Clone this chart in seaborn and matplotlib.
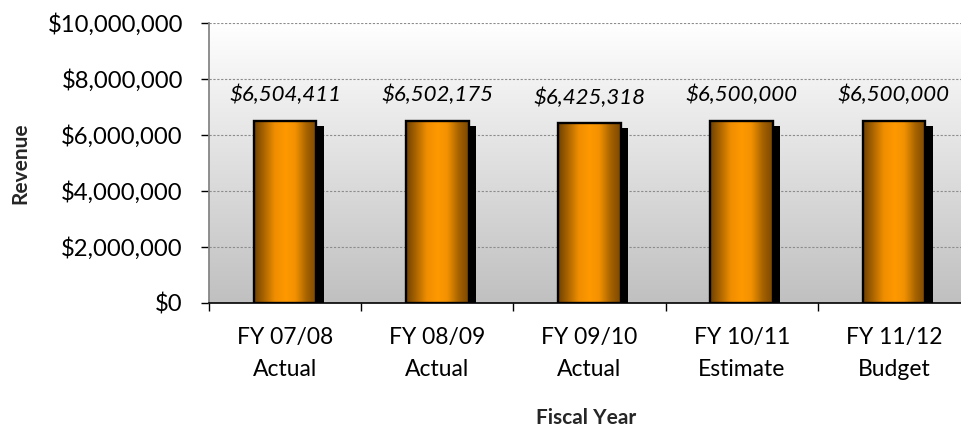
import numpy as np
import matplotlib
matplotlib.use("Agg")
import matplotlib.pyplot as plt
import seaborn as sns
import pandas as pd
from matplotlib import patheffects as pe
from matplotlib.colors import LinearSegmentedColormap
from matplotlib.patches import Rectangle
from matplotlib.ticker import FuncFormatter, MultipleLocator, FixedLocator

# Revenue by fiscal year
years = ["FY 07/08", "FY 08/09", "FY 09/10", "FY 10/11", "FY 11/12"]
kinds = ["Actual", "Actual", "Actual", "Estimate", "Budget"]
revenue = [6504411, 6502175, 6425318, 6500000, 6500000]

sns.set_theme(style="white")
plt.rcParams["font.family"] = ["Lato", "DejaVu Sans"]

FS = 16.5
labels = [f"{y}\n{k}" for y, k in zip(years, kinds)]
df = pd.DataFrame({"year": labels, "revenue": revenue})

fig = plt.figure(figsize=(9.62, 4.3), dpi=100)
fig.patch.set_facecolor("white")
ax = fig.add_axes([209 / 962, 1 - 303 / 430, 761 / 962, 280 / 430])

sns.barplot(data=df, x="year", y="revenue", color="#ff9900", width=0.41,
            saturation=1, edgecolor="none", ax=ax, zorder=3, errorbar=None)

# Plot-area background: vertical gradient from white to light gray
bg_cmap = LinearSegmentedColormap.from_list("bg", ["#c0c0c0", "#ffffff"])
ax.imshow(np.linspace(0, 1, 256)[:, None], cmap=bg_cmap, aspect="auto",
          extent=[0, 1, 0, 1], origin="lower", transform=ax.transAxes,
          zorder=0, interpolation="bicubic")

# Cylinder-like horizontal shading for each bar, with a drop shadow
bar_cmap = LinearSegmentedColormap.from_list(
    "bar", [(0.0, "#6e4100"), (0.15, "#a86300"), (0.33, "#ef8e00"),
            (0.5, "#ff9900"), (0.66, "#f29100"), (0.84, "#a56200"),
            (1.0, "#7a4800")])
grad = np.linspace(0, 1, 256)[None, :]
for p in list(ax.patches):
    p.set_path_effects([pe.SimplePatchShadow(offset=(5.4, -3.8),
                                             shadow_rgbFace="black", alpha=1.0),
                        pe.Normal()])
    x0, w, h = p.get_x(), p.get_width(), p.get_height()
    im = ax.imshow(grad, cmap=bar_cmap, aspect="auto",
                   extent=[x0, x0 + w, 0, h], zorder=3.5,
                   interpolation="bicubic")
    im.set_clip_path(p)
    ax.add_patch(Rectangle((x0, 0), w, h, fill=False, edgecolor="black",
                           lw=1.7, zorder=4))

# Value labels above bars
for p, v in zip(ax.patches[:len(revenue)], revenue):
    ax.annotate(f"${v:,.0f}", xy=(p.get_x() + p.get_width() / 2, v),
                xytext=(0, 18.5), textcoords="offset points",
                ha="center", va="center", style="italic", fontsize=16,
                color="black", zorder=6)

ax.set_xlim(-0.5, len(revenue) - 0.5)
ax.set_ylim(0, 10_000_000)
ax.yaxis.set_major_locator(MultipleLocator(2_000_000))
ax.yaxis.set_major_formatter(FuncFormatter(lambda v, _: f"${v:,.0f}"))
ax.xaxis.set_minor_locator(FixedLocator(np.arange(-0.5, len(revenue), 1.0)))

ax.set_axisbelow(True)
ax.yaxis.grid(True, linestyle=(0, (2, 1.5)), color="#8c8c8c", lw=0.8, zorder=1)
ax.xaxis.grid(False)

for s in ["top", "right"]:
    ax.spines[s].set_visible(False)
ax.spines["left"].set_color("#868686")
ax.spines["left"].set_linewidth(1.3)
ax.spines["bottom"].set_color("black")
ax.spines["bottom"].set_linewidth(1.2)

ax.tick_params(axis="y", which="major", left=True, length=5.8, width=1,
               color="black", pad=13, labelsize=17.2, labelcolor="black")
ax.tick_params(axis="x", which="major", bottom=True, length=0, pad=17.5,
               labelsize=FS, labelcolor="black")
ax.tick_params(axis="x", which="minor", bottom=True, length=5.8, width=1,
               color="black")
for t in ax.get_xticklabels():
    t.set_linespacing(1.65)

ax.set_xlabel("Fiscal Year", fontsize=15, fontweight="bold", va="center")
ax.xaxis.set_label_coords(0.495, -(418 - 303) / 280)
ax.set_ylabel("Revenue", fontsize=15, fontweight="bold", va="center")
ax.yaxis.set_label_coords(-(209 - 20) / 761, 0.5)

fig.savefig("out.png", dpi=100, facecolor="white")
